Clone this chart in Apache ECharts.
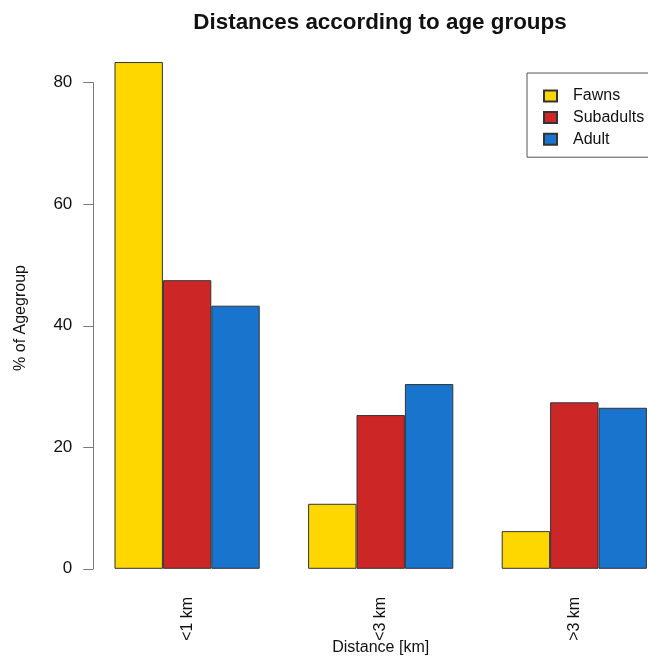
<!DOCTYPE html>
<html>
<head>
<meta charset="utf-8">
<script src="https://cdn.jsdelivr.net/npm/echarts@6/dist/echarts.min.js"></script>
<style>
  html, body { margin: 0; padding: 0; background: #ffffff; }
  #chart { width: 648px; height: 662px; }
</style>
</head>
<body>
<div id="chart"></div>
<script>
// Distance classes and share of each age group (%)
const categories = ['<1 km', '<3 km', '>3 km'];
const fawns = [83.4, 10.7, 6.2];
const subadults = [47.5, 25.3, 27.4];
const adults = [43.3, 30.4, 26.5];
const yTicks = [0, 20, 40, 60, 80];

const FONT = '"Liberation Sans", Arial, Helvetica, sans-serif';
const barBorder = { borderColor: '#333333', borderWidth: 1 };

const chart = echarts.init(document.getElementById('chart'), null, { renderer: 'canvas' });

chart.setOption({
  backgroundColor: '#ffffff',
  animation: false,
  textStyle: { fontFamily: FONT },
  title: {
    text: 'Distances according to age groups',
    left: 375,
    top: 7,
    textAlign: 'center',
    textStyle: { fontFamily: FONT, fontSize: 22.4, fontWeight: 'bold', color: '#111' }
  },
  legend: {
    orient: 'vertical',
    left: 527,
    top: 73,
    padding: [15, 30, 10, 16],
    itemWidth: 13,
    itemHeight: 11,
    itemGap: 5.6,
    borderColor: '#555',
    borderWidth: 1,
    backgroundColor: '#fff',
    icon: 'rect',
    textStyle: { fontFamily: FONT, fontSize: 16, lineHeight: 16, color: '#111', padding: [0, 0, 0, 11] },
    data: ['Fawns', 'Subadults', 'Adult']
  },
  grid: {
    left: 90.3, right: -23.1, top: 82.7, bottom: 93.2,
    containLabel: false,
    outerBoundsMode: 'none'
  },
  xAxis: {
    type: 'category',
    data: categories,
    axisLine: { show: false },
    axisTick: { show: false },
    axisLabel: { rotate: 90, margin: 28, fontSize: 16, color: '#111', fontFamily: FONT },
    name: 'Distance [km]',
    nameLocation: 'middle',
    nameGap: 71,
    nameMoveOverlap: false,
    nameTextStyle: { fontSize: 16, color: '#111', fontFamily: FONT }
  },
  yAxis: {
    type: 'value',
    min: yTicks[0],
    max: yTicks[yTicks.length - 1],
    interval: yTicks[1] - yTicks[0],
    offset: -3,
    splitLine: { show: false },
    axisLine: { show: true, lineStyle: { color: '#777', width: 1 } },
    axisTick: { show: true, inside: false, length: 10, lineStyle: { color: '#777', width: 1 } },
    axisLabel: { margin: 21, fontSize: 17, color: '#111', fontFamily: FONT }
  },
  graphic: [{
    type: 'text',
    x: 20.5,
    y: 318,
    rotation: Math.PI / 2,
    style: {
      text: '% of Agegroup',
      fontFamily: FONT,
      fontSize: 16,
      fill: '#111',
      align: 'center',
      verticalAlign: 'middle'
    }
  }],
  series: [
    { name: 'Fawns', type: 'bar', data: fawns, clip: false, barGap: '0%', barCategoryGap: '25%',
      itemStyle: Object.assign({ color: '#FFD700' }, barBorder) },
    { name: 'Subadults', type: 'bar', data: subadults, clip: false, barGap: '0%', barCategoryGap: '25%',
      itemStyle: Object.assign({ color: '#CD2626' }, barBorder) },
    { name: 'Adult', type: 'bar', data: adults, clip: false, barGap: '0%', barCategoryGap: '25%',
      itemStyle: Object.assign({ color: '#1874CD' }, barBorder) }
  ]
});
</script>
</body>
</html>
